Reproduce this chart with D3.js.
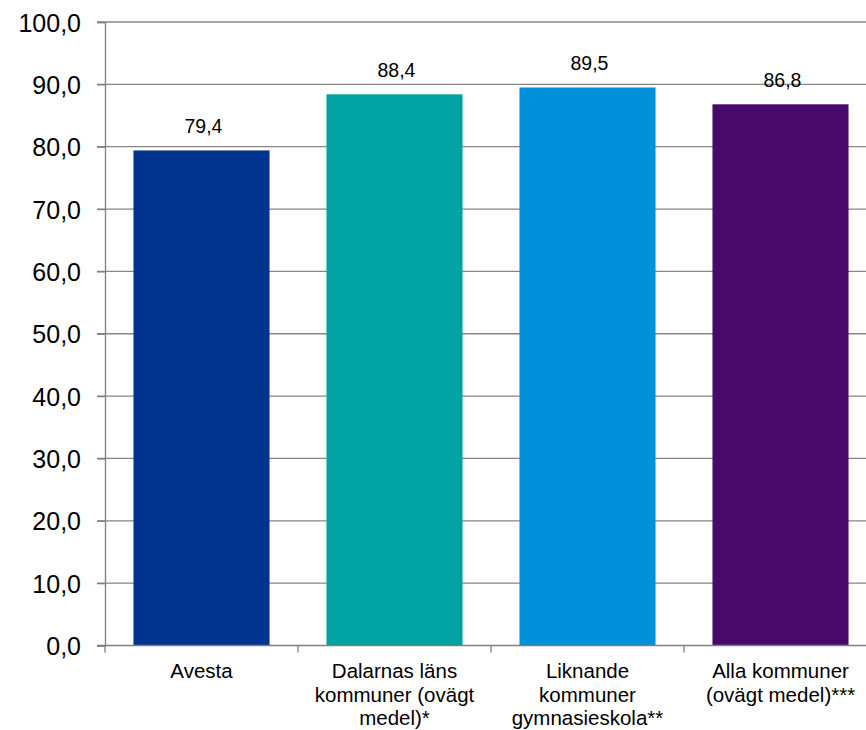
<!DOCTYPE html>
<html><head><meta charset="utf-8">
<script src="https://cdn.jsdelivr.net/npm/d3@7"></script>
<style>html,body{margin:0;padding:0;background:#fff;}svg{display:block;}</style>
</head><body>
<svg id="chart" width="866" height="730"></svg>
<script>
const categories = ["Avesta", "Dalarnas läns\nkommuner (ovägt\nmedel)*", "Liknande\nkommuner\ngymnasieskola**", "Alla kommuner\n(ovägt medel)***"];
const values = [79.4, 88.4, 89.5, 86.8];
const colors = ["#00338D", "#00A3A1", "#0091DA", "#470A68"];
const yTicks = [0, 10, 20, 30, 40, 50, 60, 70, 80, 90, 100];

const svg = d3.select("#chart");
const font = "'Liberation Sans', Arial, sans-serif";
const fmt = v => v.toFixed(1).replace(".", ",");

const x = d3.scaleBand().domain(categories).range([105, 877]).paddingInner(0.295).paddingOuter(0.1475);
const y = d3.scaleLinear().domain([0, 100]).range([645.5, 22]);

// gridlines
svg.append("g").selectAll("line").data(yTicks.filter(d => d > 0)).join("line")
  .attr("x1", 97).attr("x2", 866)
  .attr("y1", d => y(d)).attr("y2", d => y(d))
  .attr("stroke", "#868686").attr("stroke-width", 1.3);

// bars
svg.append("g").selectAll("rect").data(values).join("rect")
  .attr("x", (d, i) => x(categories[i]))
  .attr("width", x.bandwidth())
  .attr("y", d => y(d))
  .attr("height", d => y(0) - y(d))
  .attr("fill", (d, i) => colors[i]);

// value labels
svg.append("g").selectAll("text").data(values).join("text")
  .attr("x", (d, i) => x(categories[i]) + x.bandwidth() / 2 + 2)
  .attr("y", d => y(d) - 17)
  .attr("text-anchor", "middle")
  .attr("font-family", font).attr("font-size", 19.5).attr("fill", "#000")
  .text(d => fmt(d));

// y axis
const yAxis = d3.axisLeft(y).tickValues(yTicks).tickFormat(fmt).tickSize(8).tickPadding(16);
const gy = svg.append("g").attr("transform", "translate(105,0)").call(yAxis);
gy.select(".domain").attr("stroke", "#7f7f7f").attr("stroke-width", 1.3);
gy.selectAll(".tick line").attr("stroke", "#7f7f7f").attr("stroke-width", 1.3);
gy.selectAll(".tick text").attr("font-family", font).attr("font-size", 25).attr("fill", "#000").attr("dy", "0.36em");

// x axis
const gx = svg.append("g").attr("transform", `translate(0,${y(0)})`);
gx.append("line").attr("x1", 97).attr("x2", 866).attr("y1", 0).attr("y2", 0)
  .attr("stroke", "#7f7f7f").attr("stroke-width", 1.3);
const bounds = [105].concat(categories.map(c => x(c) + x.bandwidth() + x.step() * x.paddingInner() / 2));
gx.selectAll("line.tk").data(bounds).join("line").attr("class", "tk")
  .attr("x1", d => d).attr("x2", d => d).attr("y1", 0).attr("y2", 7)
  .attr("stroke", "#7f7f7f").attr("stroke-width", 1.3);
const labels = gx.selectAll("text.cat").data(categories).join("text").attr("class", "cat")
  .attr("text-anchor", "middle")
  .attr("font-family", font).attr("font-size", 20.5).attr("fill", "#000")
  .attr("transform", d => `translate(${x(d) + x.bandwidth() / 2},0)`);
labels.selectAll("tspan").data(d => d.split("\n")).join("tspan")
  .attr("x", 0).attr("y", (d, i) => 32.5 + i * 23.5).text(d => d);
</script>
</body></html>
